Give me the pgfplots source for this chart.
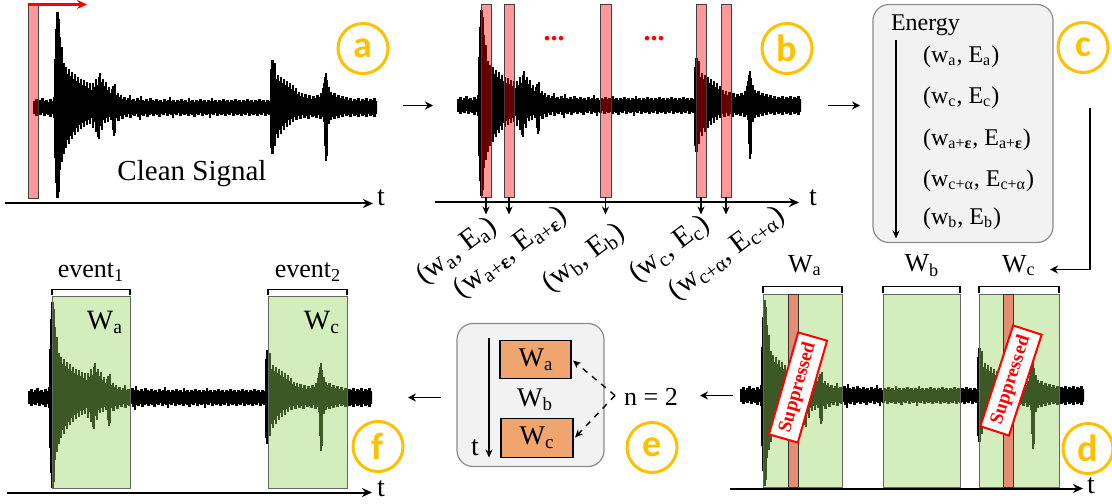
\documentclass[border=0pt]{standalone}
\usepackage{pgfplots}
\pgfplotsset{compat=1.18}
\usepackage{pgfplotstable}
\usepgfplotslibrary{fillbetween}
\usetikzlibrary{arrows.meta}
\usepackage{fontspec}
\setmainfont{Liberation Serif}
\newfontfamily\circfont{Carlito}
\definecolor{circ}{HTML}{FFC000}
\definecolor{gwin}{rgb}{0.58,0.84,0.36}
\definecolor{orangebox}{HTML}{F0A46E}
\definecolor{stripe}{HTML}{E38D72}
\definecolor{boxgray}{HTML}{F2F2F2}
\definecolor{boxedge}{HTML}{8C8C8C}
\newcommand{\fs}[1]{\fontsize{#1}{#1}\selectfont}
\tikzset{
  redwin/.style={fill=red, fill opacity=0.4, draw=black!75, draw opacity=1, line width=0.5pt},
  greenwin/.style={fill=gwin, fill opacity=0.41, draw=black!60, draw opacity=1, line width=0.5pt},
  bracket/.style={line width=0.6pt},
  downarr/.style={line width=0.7pt, -{Stealth[length=4pt,width=3.5pt]}},
  tax/.style={line width=1pt, -{Stealth[length=5pt,width=4.5pt]}},
  flow/.style={line width=0.8pt, -{Stealth[length=4pt,width=4pt]}},
  circlab/.style={circ, font=\circfont\bfseries\fs{19}},
  rlab/.style={rotate=37, anchor=east, inner sep=0pt, font=\fs{14.5}},
  clab/.style={anchor=west, font=\fs{12}},
  stamp/.style={draw=red, fill=white, line width=1pt, text=red, font=\bfseries\fs{9.5},
    minimum width=53pt, minimum height=15pt, inner sep=1pt}
}
\pgfplotsset{env/.style={const plot, draw=black, line width=0.35pt}}

% upper envelope of the waveform (t in px from signal start, amplitude in px)
\pgfplotstableread{
t u
0 6
2 8
4 5
6 7
8 9
10 6
12 7
14 5
16 8
18 6
20 10
21 48
22 78
23 95
25 88
26 70
27 52
28 60
29 40
30 44
31 36
32 40
33 33
35 38
36 31
38 35
39 28
41 33
42 26
44 30
45 24
47 28
48 22
50 27
51 21
53 25
54 19
56 24
57 17
59 24
60 20
62 28
63 22
65 30
66 34
67 25
69 28
70 21
72 25
73 17
75 20
76 14
78 18
79 21
81 23
82 12
84 14
85 10
87 12
88 8
90 10
92 7
94 9
96 12
97 7
99 8
101 6
103 9
105 7
107 11
108 7
110 6
112 8
114 6
116 9
118 7
120 6
122 8
124 6
126 7
128 5
130 8
132 6
134 7
136 10
137 6
139 7
141 5
143 7
145 6
147 8
149 6
151 7
153 5
155 9
156 6
158 7
160 5
162 7
164 6
166 8
168 6
170 7
172 5
174 7
176 6
178 9
179 6
181 7
183 5
185 7
187 6
189 8
191 6
193 7
195 5
197 7
199 6
201 8
203 6
205 7
207 5
209 7
211 6
213 8
215 6
217 7
219 5
221 7
223 6
225 8
227 6
229 7
231 5
233 7
235 6
237 38
238 47
240 36
241 44
242 28
244 32
245 26
247 30
248 24
250 28
251 22
253 26
254 20
256 24
257 18
259 22
260 16
262 19
263 13
265 15
266 11
268 14
269 10
271 13
273 9
275 12
277 8
279 11
281 9
283 12
285 10
287 14
289 19
290 24
291 30
292 34
293 27
294 20
296 15
298 12
300 14
302 10
304 12
306 9
308 11
310 8
312 10
314 7
316 9
318 6
320 8
322 7
324 9
326 6
328 8
330 7
332 9
334 6
336 8
338 7
340 9
342 6
344 6
}\sigU

% lower envelope
\pgfplotstableread{
t l
0 -6
2 -8
4 -6
6 -7
8 -5
10 -8
12 -6
14 -7
16 -9
18 -6
20 -10
21 -50
22 -75
23 -90
25 -84
26 -62
27 -48
28 -54
29 -42
30 -46
31 -36
32 -40
33 -32
35 -36
36 -28
38 -31
39 -24
41 -27
42 -20
44 -24
45 -17
47 -21
48 -15
50 -19
51 -13
53 -17
54 -12
56 -16
57 -10
59 -20
60 -14
62 -24
63 -18
64 -29
65 -31
66 -18
68 -22
69 -12
71 -15
72 -10
74 -14
75 -9
77 -12
79 -22
80 -28
81 -25
82 -10
84 -13
86 -8
88 -11
90 -7
92 -9
94 -6
96 -10
98 -7
100 -8
102 -6
104 -9
106 -12
107 -7
109 -8
111 -6
113 -9
115 -7
117 -6
119 -8
121 -6
123 -7
125 -9
127 -6
129 -7
131 -5
133 -8
135 -6
137 -7
139 -10
140 -6
142 -7
144 -5
146 -8
148 -6
150 -7
152 -6
154 -8
156 -6
158 -7
160 -9
162 -6
164 -7
166 -5
168 -8
170 -6
172 -7
174 -6
176 -10
177 -6
179 -7
181 -5
183 -8
185 -6
187 -7
189 -6
191 -8
193 -6
195 -7
197 -5
199 -8
201 -6
203 -7
205 -6
207 -8
209 -6
211 -7
213 -5
215 -8
217 -6
219 -7
221 -6
223 -8
225 -6
227 -7
229 -5
231 -8
233 -6
235 -7
237 -40
238 -46
240 -34
241 -38
242 -26
244 -30
245 -22
247 -26
248 -18
250 -22
251 -15
253 -19
254 -12
256 -17
257 -11
259 -14
260 -9
262 -12
264 -8
266 -11
268 -7
270 -10
272 -8
274 -11
276 -7
278 -9
280 -8
282 -10
284 -7
286 -11
288 -9
290 -14
291 -38
292 -53
293 -48
294 -16
296 -12
298 -9
300 -11
302 -8
304 -10
306 -7
308 -9
310 -6
312 -8
314 -7
316 -9
318 -6
320 -8
322 -7
324 -9
326 -6
328 -8
330 -7
332 -9
334 -6
336 -8
338 -7
340 -9
342 -6
344 -6
}\sigL

\begin{document}
\begin{tikzpicture}
\begin{axis}[at={(0,0)}, anchor=north west, scale only axis,
  width=556pt, height=249pt,
  xmin=0, xmax=1112, ymin=-498, ymax=0, hide axis, clip=false]

\path (0,0) rectangle (1112,-498);
% ---------- signals ----------
% panel a: start 33, centre 107
\addplot[env, name path=Ua] table[x expr=\thisrow{t}+33, y expr=\thisrow{u}-107] {\sigU};
\addplot[env, name path=La] table[x expr=\thisrow{t}+33, y expr=\thisrow{l}-107] {\sigL};
\addplot[fill=black, draw=none] fill between[of=Ua and La];
% panel b: start 457, centre 105
\addplot[env, name path=Ub] table[x expr=\thisrow{t}+457, y expr=\thisrow{u}-105] {\sigU};
\addplot[env, name path=Lb] table[x expr=\thisrow{t}+457, y expr=\thisrow{l}-105] {\sigL};
\addplot[fill=black, draw=none] fill between[of=Ub and Lb];
% panel d: start 740, centre 395
\addplot[env, name path=Ud] table[x expr=\thisrow{t}+740, y expr=\thisrow{u}-395] {\sigU};
\addplot[env, name path=Ld] table[x expr=\thisrow{t}+740, y expr=\thisrow{l}-395] {\sigL};
\addplot[fill=black, draw=none] fill between[of=Ud and Ld];
% panel f: start 28, centre 397
\addplot[env, name path=Uf] table[x expr=\thisrow{t}+28, y expr=\thisrow{u}-397] {\sigU};
\addplot[env, name path=Lf] table[x expr=\thisrow{t}+28, y expr=\thisrow{l}-397] {\sigL};
\addplot[fill=black, draw=none] fill between[of=Uf and Lf];

% ---------- panel a ----------
\path[redwin] (28,-5) rectangle (38,-198);
\draw[red, line width=1.1pt, -{Stealth[length=5pt,width=4.5pt]}] (28,-4) -- (87,-4);
\draw[tax] (5,-203) -- (373,-203);
\node[font=\fs{14}] at (381,-197) {t};
\node[font=\fs{14.5}] at (192,-173) {Clean Signal};
\draw[circ, line width=1.5pt] (363,-48) circle[radius=12.5pt];
\node[circlab] at (363,-48) {a};
\draw[flow] (403,-105) -- (433,-105);

% ---------- panel b ----------
\path[redwin] (481,-4) rectangle (491,-197);
\path[redwin] (504,-4) rectangle (514,-197);
\path[redwin] (600,-4) rectangle (611,-197);
\path[redwin] (696,-4) rectangle (706,-197);
\path[redwin] (721,-4) rectangle (731,-197);
\draw[downarr] (486,-197) -- (486,-214);
\draw[downarr] (509,-197) -- (509,-214);
\draw[downarr] (605.5,-197) -- (605.5,-214);
\draw[downarr] (701,-197) -- (701,-214);
\draw[downarr] (726,-197) -- (726,-214);
\draw[tax] (435,-202) -- (799,-202);
\node[font=\fs{14}] at (813,-197) {t};
\node[red, font=\bfseries\fs{14}] at (554,-38) {...};
\node[red, font=\bfseries\fs{14}] at (654,-38) {...};
\draw[circ, line width=1.5pt] (787,-48) circle[radius=12.5pt];
\node[circlab] at (787,-48) {b};
\node[rlab] at (494,-223) {(w\textsubscript{a}, E\textsubscript{a})};
\node[rlab] at (564,-212) {(w\textsubscript{a+\textbf{ε}}, E\textsubscript{a+\textbf{ε}})};
\node[rlab] at (622,-229) {(w\textsubscript{b}, E\textsubscript{b})};
\node[rlab] at (707,-221) {(w\textsubscript{c}, E\textsubscript{c})};
\node[rlab] at (782,-212) {(w\textsubscript{c+α}, E\textsubscript{c+α})};
\draw[flow] (828,-105) -- (860,-105);

% ---------- panel c ----------
\draw[boxedge, fill=boxgray, line width=0.6pt, rounded corners=8pt] (873,-4) rectangle (1053,-242);
\node[clab] at (884,-25) {Energy};
\draw[downarr] (896,-40) -- (896,-238);
\node[clab] at (916,-56) {(w\textsubscript{a}, E\textsubscript{a})};
\node[clab] at (916,-97) {(w\textsubscript{c}, E\textsubscript{c})};
\node[clab] at (916,-139) {(w\textsubscript{a+\textbf{ε}}, E\textsubscript{a+\textbf{ε}})};
\node[clab] at (916,-180) {(w\textsubscript{c+α}, E\textsubscript{c+α})};
\node[clab] at (916,-218) {(w\textsubscript{b}, E\textsubscript{b})};
\draw[circ, line width=1.5pt] (1083,-47) circle[radius=12.5pt];
\node[circlab] at (1083,-47) {c};
\draw[flow] (1090,-108) -- (1090,-269) -- (1050,-269);

% ---------- panel d ----------
\path[greenwin] (763,-294) rectangle (842,-487);
\path[greenwin] (883,-294) rectangle (960,-487);
\path[greenwin] (979,-294) rectangle (1059,-487);
\draw[bracket] (763,-292) -- (763,-286) -- (842,-286) -- (842,-292);
\draw[bracket] (883,-292) -- (883,-286) -- (960,-286) -- (960,-292);
\draw[bracket] (979,-292) -- (979,-286) -- (1059,-286) -- (1059,-292);
\filldraw[fill=stripe, draw=black!80, line width=0.5pt] (788,-294) rectangle (798,-487);
\filldraw[fill=stripe, draw=black!80, line width=0.5pt] (1003,-294) rectangle (1013,-487);
\node[font=\fs{13}] at (805,-265) {W\textsubscript{a}};
\node[font=\fs{13}] at (922,-265) {W\textsubscript{b}};
\node[font=\fs{13}] at (1019,-265) {W\textsubscript{c}};
\node[stamp, rotate=74] at (798,-387) {Suppressed};
\node[stamp, rotate=72] at (1011,-380) {Suppressed};
\draw[tax] (730,-488) -- (1083,-488);
\node[font=\fs{14}] at (1091,-485) {t};
\draw[circ, line width=1.5pt, overlay] (1088,-448) circle[radius=12.5pt];
\node[circlab] at (1088,-448) {d};
\draw[flow] (733,-395) -- (700,-395);

% ---------- panel e ----------
\draw[boxedge, fill=boxgray, line width=0.6pt, rounded corners=8pt] (457,-323) rectangle (604,-466);
\draw[downarr] (489,-337) -- (489,-457);
\node[font=\fs{14}] at (475,-447) {t};
\filldraw[fill=orangebox, draw=black, line width=0.9pt] (500,-340) rectangle (571,-378);
\filldraw[fill=orangebox, draw=black, line width=0.9pt] (501,-418) rectangle (573,-457);
\node[font=\fs{13.5}] at (536,-359) {W\textsubscript{a}};
\node[font=\fs{13.5}] at (537,-437) {W\textsubscript{c}};
\node[font=\fs{13.5}] at (535,-399) {W\textsubscript{b}};
\draw[dashed, line width=0.7pt, -{Stealth[length=4pt,width=3.5pt]}] (615,-395) -- (573,-360);
\draw[dashed, line width=0.7pt, -{Stealth[length=4pt,width=3.5pt]}] (615,-395) -- (575,-437);
\node[font=\fs{13}] at (651,-396) {n = 2};
\draw[circ, line width=1.5pt] (652,-447) circle[radius=12.5pt];
\node[circlab] at (652,-447) {e};
\draw[flow] (441,-397) -- (408,-397);

% ---------- panel f ----------
\path[greenwin] (52,-296) rectangle (130,-488);
\path[greenwin] (268,-296) rectangle (347,-488);
\draw[bracket] (52,-294) -- (52,-289) -- (130,-289) -- (130,-294);
\draw[bracket] (268,-294) -- (268,-289) -- (347,-289) -- (347,-294);
\node[font=\fs{13}] at (91,-272) {event\textsubscript{1}};
\node[font=\fs{13}] at (308,-272) {event\textsubscript{2}};
\node[font=\fs{14}] at (105,-322) {W\textsubscript{a}};
\node[font=\fs{14}] at (322,-322) {W\textsubscript{c}};
\draw[tax] (7,-492) -- (372,-492);
\node[font=\fs{14}] at (381,-488) {t};
\draw[circ, line width=1.5pt] (378,-446) circle[radius=12.5pt];
\node[circlab] at (378,-446) {f};

\end{axis}
\end{tikzpicture}
\end{document}
